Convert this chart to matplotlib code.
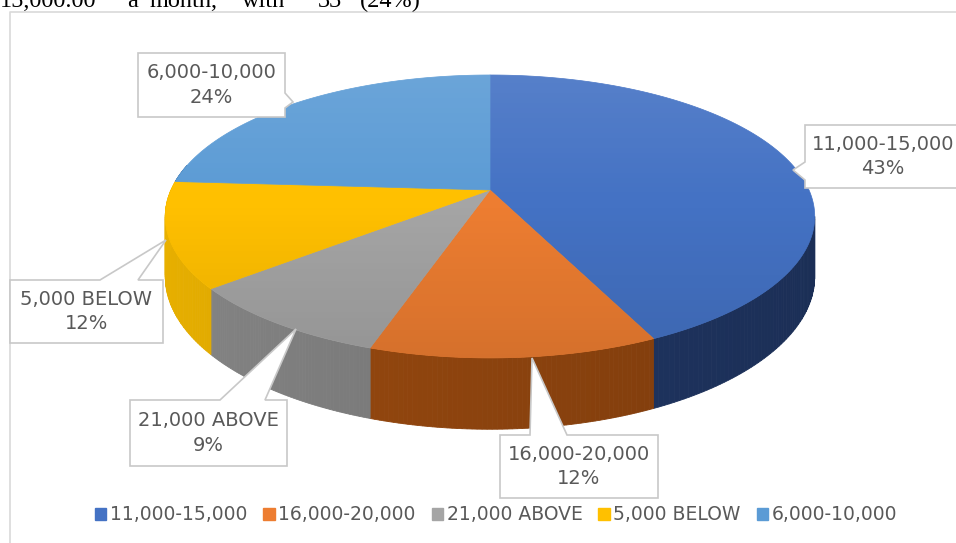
import numpy as np
import matplotlib
matplotlib.use("Agg")
import matplotlib.pyplot as plt
from matplotlib.patches import Polygon, Patch
from matplotlib.colors import to_rgb

# income groups, in the order the slices go round (clockwise from 12 o'clock)
labels = ["11,000-15,000", "16,000-20,000", "21,000 ABOVE", "5,000 BELOW", "6,000-10,000"]
percent = [43, 12, 9, 12, 24]
top_colors = ["#4472C4", "#ED7D31", "#A5A5A5", "#FFC000", "#5B9BD5"]
side_colors = ["#1F3562", "#8C430E", "#777777", "#CF9D00", "#3A6A9A"]

# pie geometry in pixels (perspective view of a disc)
CX, CY = 490, 190
SX, SY = 319, 136.5
K = 0.187        # perspective strength
DEPTH = 58       # thickness of the disc

def rim(t, drop=0.0):
    X, Y = np.cos(t), np.sin(t)
    den = 1 + K * Y
    return CX + SX * X / den, CY - SY * Y / den + drop / den

def shade(c, f):
    r, g, b = to_rgb(c)
    return (min(r * f, 1), min(g * f, 1), min(b * f, 1))

fig = plt.figure(figsize=(9.56, 5.43), dpi=100)
ax = fig.add_axes([0, 0, 1, 1])
ax.set_xlim(0, 956)
ax.set_ylim(543, 0)
ax.axis("off")

# slice angles (radians), start at the top and go clockwise
edges = np.pi / 2 - 2 * np.pi * np.concatenate([[0], np.cumsum(percent)]) / 100.0
t_lo, t_hi = -(np.pi + np.arcsin(K)), -np.arcsin(K)   # visible front side

for i in range(len(percent)):
    a, b = edges[i], edges[i + 1]   # a > b
    # side wall, only the front part can be seen
    s0, s1 = min(a, t_hi), max(b, t_lo)
    if s0 > s1:
        ts = np.linspace(s0, s1, 60)
        for j in range(len(ts) - 1):
            tt = np.linspace(ts[j], ts[j + 1], 3)
            xt, yt = rim(tt)
            xb, yb = rim(tt, DEPTH)
            X = np.cos(ts[j])
            f = 1.12 - 0.25 * (X + 1) / 2
            pts = np.column_stack([np.r_[xt, xb[::-1]], np.r_[yt, yb[::-1]]])
            ax.add_patch(Polygon(pts, closed=True, fc=shade(side_colors[i], f),
                                 ec=shade(side_colors[i], f), lw=0.6, zorder=1))
    # top face
    tt = np.linspace(a, b, 200)
    xt, yt = rim(tt)
    pts = np.column_stack([np.r_[CX, xt], np.r_[CY, yt]])
    ax.add_patch(Polygon(pts, closed=True, fc=top_colors[i], ec=top_colors[i],
                         lw=0.5, zorder=2))

# soft light on the top face: lighter at the back, darker at the front
tt = np.linspace(0, 2 * np.pi, 400)
xt, yt = rim(tt)
top = Polygon(np.column_stack([xt, yt]), closed=True, fc="none", ec="none")
ax.add_patch(top)
g = np.linspace(0, 1, 256)[:, None]
light = np.zeros((256, 2, 4))
light[:, :, :3] = np.where(g < 0.45, 1.0, 0.0)[:, :, None]
light[:, :, 3] = np.where(g < 0.45, 0.10 * (0.45 - g) / 0.45, 0.10 * (g - 0.45) / 0.55)
im = ax.imshow(light, extent=(xt.min(), xt.max(), yt.max(), yt.min()),
               aspect="auto", interpolation="bilinear", zorder=3)
im.set_clip_path(top)
ax.set_xlim(0, 956)
ax.set_ylim(543, 0)

# data callouts: box, side of the pointer, pointer base, pointer tip
boxes = [
    (805, 125, 975, 188, "left", 162, 180, (793, 170)),
    (500, 435, 658, 498, "top", 530, 567, (532, 358)),
    (130, 400, 287, 466, "top", 220, 265, (296, 329)),
    (10, 280, 163, 343, "top", 100, 138, (166, 240)),
    (138, 53, 285, 117, "right", 93, 108, (293, 102)),
]

def callout(x0, y0, x1, y1, side, a, b, tip):
    if side == "top":
        pts = [(x0, y0), (a, y0), tip, (b, y0), (x1, y0), (x1, y1), (x0, y1)]
    elif side == "right":
        pts = [(x0, y0), (x1, y0), (x1, a), tip, (x1, b), (x1, y1), (x0, y1)]
    else:
        pts = [(x0, y0), (x1, y0), (x1, y1), (x0, y1), (x0, b), tip, (x0, a)]
    return Polygon(pts, closed=True, fc="white", ec="#C8C8C8", lw=1.2, zorder=5)

for i in range(len(labels)):
    x0, y0, x1, y1, side, a, b, tip = boxes[i]
    ax.add_patch(callout(x0, y0, x1, y1, side, a, b, tip))
    xm = (x0 + x1) / 2 if x1 < 956 else x0 + 78
    ax.text(xm, (y0 + y1) / 2, f"{labels[i]}\n{percent[i]}%", ha="center",
            va="center", fontsize=14, color="#595959", linespacing=1.35, zorder=6)

# chart area border
ax.plot([10, 10, 960], [560, 12, 12], color="#D9D9D9", lw=1.2, zorder=0)

# legend
handles = [Patch(fc=c, ec=c, label=l) for l, c in zip(labels, top_colors)]
fig.legend(handles=handles, loc="center", bbox_to_anchor=(0.519, 0.052), ncol=5,
           frameon=False, fontsize=13.5, handlelength=0.6, handleheight=0.6,
           handletextpad=0.2, columnspacing=0.85, labelcolor="#595959")

# line of body text above the chart
words = ["15,000.00", "a", "month,", "with", "33", "(24%)"]
word_x = [0, 127, 150, 242, 318, 360]
for w, x in zip(words, word_x):
    ax.text(x, 7, w, fontsize=17.5, family="Liberation Serif", color="black",
            va="baseline", ha="left", clip_on=False)

fig.savefig("out.png", dpi=100)
